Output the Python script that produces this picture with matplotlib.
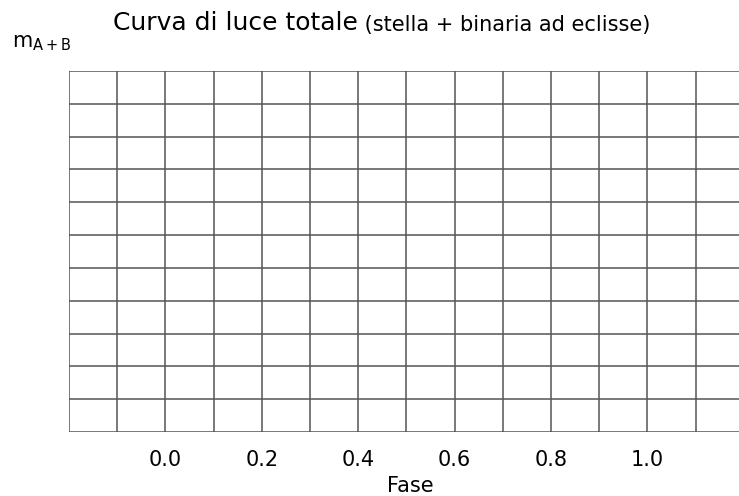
import numpy as np
import matplotlib
matplotlib.use("Agg")
import matplotlib.pyplot as plt

# --- dati del grafico (griglia vuota) ---
fase_ticks = [0.0, 0.2, 0.4, 0.6, 0.8, 1.0]
fase_labels = ["0.0", "0.2", "0.4", "0.6", "0.8", "1.0"]
fase_griglia = [-0.2, -0.1, 0.0, 0.1, 0.2, 0.3, 0.4, 0.5, 0.6, 0.7, 0.8, 0.9, 1.0, 1.1]
mag_griglia = [0, 1, 2, 3, 4, 5, 6, 7, 8, 9, 10, 11]

titolo = "Curva di luce totale"
sottotitolo = "(stella + binaria ad eclisse)"
ylabel = r"$\mathregular{m_{A+B}}$"
xlabel = "Fase"

plt.rcParams["font.family"] = ["DejaVu Sans"]

fig = plt.figure(figsize=(7.39, 4.96), dpi=100)
ax = fig.add_axes([69 / 739, 1 - 432 / 496, 1 - 69 / 739, (432 - 71) / 496])

ax.set_xlim(-0.2, 1.19)
ax.set_ylim(mag_griglia[0], mag_griglia[-1])

# griglia
for x in fase_griglia:
    ax.axvline(x, color="#555555", lw=1.1)
for y in mag_griglia:
    ax.axhline(y, color="#555555", lw=1.1)

for s in ax.spines.values():
    s.set_visible(False)

ax.set_xticks(fase_ticks)
ax.set_xticklabels(fase_labels, fontsize=15)
ax.tick_params(axis="x", length=0, pad=13)
ax.set_yticks([])

ax.set_xlabel(xlabel, fontsize=15, va="top")
ax.xaxis.set_label_coords(0.509, -0.122)

# titolo in due parti
t1 = fig.text(113 / 739, 1 - 30 / 496, titolo, fontsize=18, ha="left", va="baseline")
ax.annotate(" " + sottotitolo, xy=(1, 0), xycoords=t1, fontsize=15,
            ha="left", va="bottom")

fig.text(12 / 739, 1 - 43 / 496, ylabel, fontsize=15, ha="left", va="center")

fig.savefig("out.png", dpi=100)
